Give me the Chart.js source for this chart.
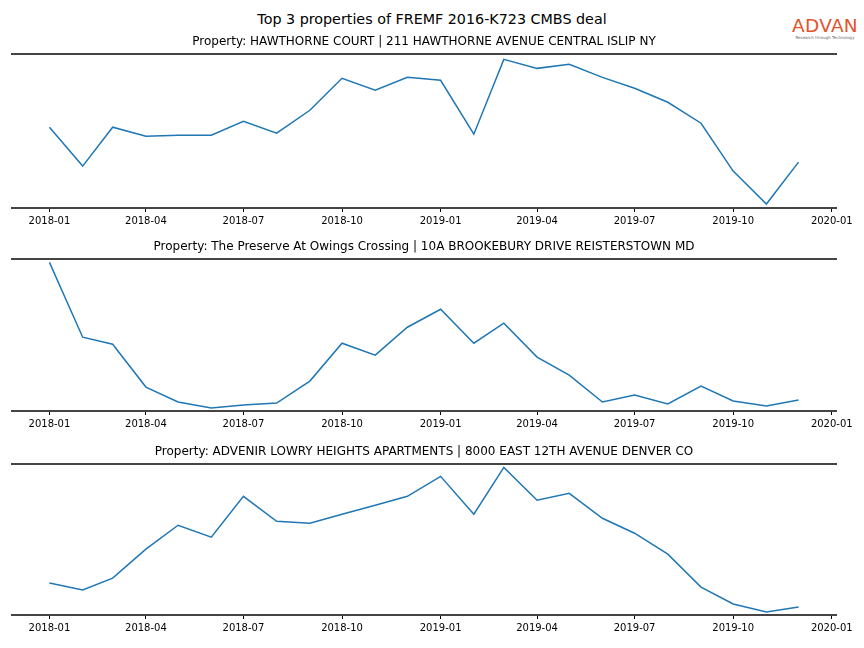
<!DOCTYPE html>
<html>
<head>
<meta charset="utf-8">
<script src="https://cdn.jsdelivr.net/npm/chart.js@4.4.1/dist/chart.umd.min.js"></script>
<style>
  body { margin: 0; background: #fff; font-family: "DejaVu Sans", sans-serif; }
  #page { position: relative; width: 864px; height: 648px; overflow: hidden; }
  .panel { position: absolute; left: 0; width: 864px; }
  #suptitle { position: absolute; left: 0; width: 864px; top: 11px; text-align: center; font-size: 14.3px; color: #000; }
  #logo { position: absolute; left: 791px; top: 17px; width: 68px; text-align: center; }
  #logo .big { font-size: 18.5px; color: #e2532b; letter-spacing: 0.3px; line-height: 18px; }
  #logo .small { font-size: 4px; color: #666; line-height: 5px; white-space: nowrap; }
</style>
</head>
<body>
<div id="page">
  <div id="suptitle">Top 3 properties of FREMF 2016-K723 CMBS deal</div>
  <div id="logo"><div class="big">ADVAN</div><div class="small">Research through Technology</div></div>
  <div class="panel" style="top:35px;height:195px"><canvas id="c1"></canvas></div>
  <div class="panel" style="top:240px;height:193px"><canvas id="c2"></canvas></div>
  <div class="panel" style="top:445px;height:192px"><canvas id="c3"></canvas></div>
</div>
<script>
// months shown on the x axis (monthly data)
const months = [
  "2018-01", "2018-02", "2018-03", "2018-04", "2018-05", "2018-06",
  "2018-07", "2018-08", "2018-09", "2018-10", "2018-11", "2018-12",
  "2019-01", "2019-02", "2019-03", "2019-04", "2019-05", "2019-06",
  "2019-07", "2019-08", "2019-09", "2019-10", "2019-11", "2019-12"
];

const tickLabels = [
  "2018-01", "2018-04", "2018-07", "2018-10",
  "2019-01", "2019-04", "2019-07", "2019-10", "2020-01"
];

const titles = [
  "Property: HAWTHORNE COURT | 211 HAWTHORNE AVENUE CENTRAL ISLIP NY",
  "Property: The Preserve At Owings Crossing | 10A BROOKEBURY DRIVE REISTERSTOWN MD",
  "Property: ADVENIR LOWRY HEIGHTS APARTMENTS | 8000 EAST 12TH AVENUE DENVER CO"
];

// values (relative units, y axis hidden)
const hawthorne = [
  81, 42, 81, 72, 73, 73, 87, 75, 98, 130, 118, 131,
  128, 74, 149, 140, 144, 131, 120, 106, 85, 37, 4, 46
];
const preserve = [
  149, 74, 67, 24, 9, 3, 6, 8, 30, 68, 56, 84,
  102, 68, 88, 54, 36, 9, 16, 7, 25, 10, 5, 11
];
const advenir = [
  32, 25, 37, 66, 90, 78, 119, 94, 92, 101, 110, 119,
  139, 101, 148, 115, 122, 97, 82, 61, 28, 11, 3, 8
];

// y limits of each panel (same relative units)
const yMax = [154, 152, 151];

// day offset from 2018-01-01
const t0 = Date.UTC(2018, 0, 1);
function dayOf(ym) {
  const [y, m] = ym.split("-").map(Number);
  return (Date.UTC(y, m - 1, 1) - t0) / 86400000;
}
const tickDays = tickLabels.map(dayOf);
const xs = months.map(dayOf);

function makeChart(id, title, values, top) {
  const xSpan = xs[xs.length - 1] - xs[0];
  return new Chart(document.getElementById(id), {
    type: "line",
    data: {
      datasets: [{
        data: values.map((v, i) => ({ x: xs[i], y: v })),
        borderColor: "#1f77b4",
        borderWidth: 1.5,
        pointRadius: 0,
        tension: 0,
        fill: false
      }]
    },
    options: {
      responsive: true,
      maintainAspectRatio: false,
      animation: false,
      layout: { padding: { left: 12, right: 28, top: 0, bottom: 0 } },
      plugins: {
        legend: { display: false },
        tooltip: { enabled: false },
        title: {
          display: true,
          text: title,
          color: "#000",
          font: { family: "DejaVu Sans", size: 12, weight: "normal" },
          padding: { top: 0, bottom: 5 }
        }
      },
      scales: {
        x: {
          type: "linear",
          min: xs[0] - 0.05 * xSpan,
          max: xs[xs.length - 1] + 0.05 * xSpan,
          afterBuildTicks: (axis) => { axis.ticks = tickDays.map(v => ({ value: v })); },
          ticks: {
            autoSkip: false,
            maxRotation: 0,
            padding: 3,
            color: "#000",
            font: { family: "DejaVu Sans", size: 10 },
            callback: (v) => tickLabels[tickDays.indexOf(v)]
          },
          grid: { drawOnChartArea: false, drawTicks: true, tickLength: 4, tickColor: "#000", tickWidth: 1 },
          border: { display: true, color: "#444", width: 2 }
        },
        x2: {
          type: "linear",
          position: "top",
          min: xs[0] - 0.05 * xSpan,
          max: xs[xs.length - 1] + 0.05 * xSpan,
          ticks: { display: false },
          grid: { display: false, drawTicks: false },
          border: { display: true, color: "#444", width: 2 }
        },
        y: {
          display: false,
          min: 0,
          max: top
        }
      }
    }
  });
}

makeChart("c1", titles[0], hawthorne, yMax[0]);
makeChart("c2", titles[1], preserve, yMax[1]);
makeChart("c3", titles[2], advenir, yMax[2]);
</script>
</body>
</html>
